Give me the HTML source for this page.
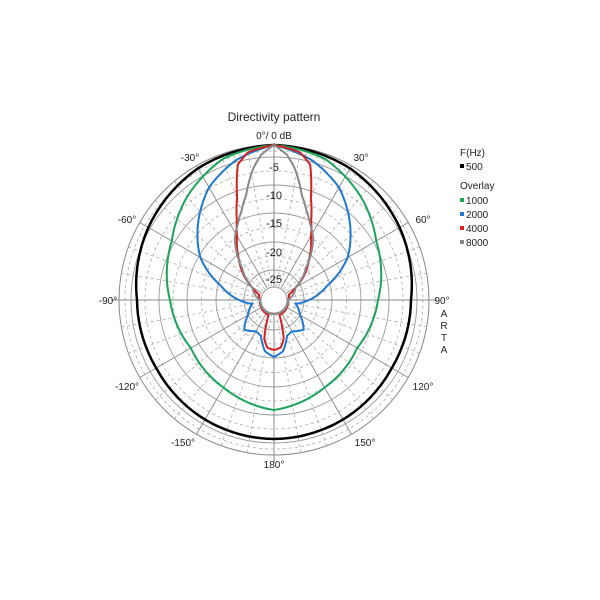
<!DOCTYPE html>
<html><head><meta charset="utf-8"><style>
body{margin:0;background:#fff;}
svg{display:block;font-family:"Liberation Sans",sans-serif;}
</style></head><body>
<svg id="s" width="600" height="600" viewBox="0 0 600 600"></svg>
<script>
const cx=274,cy=300,R=155,r0=14;
const s=document.getElementById('s');
let h='';
const rings=[143,115,87,58,30];
const dr=[149,129,101,72.5,44,22];
dr.forEach(r=>{h+=`<circle cx="${cx}" cy="${cy}" r="${r}" fill="none" stroke="#aaa" stroke-width="0.8" stroke-dasharray="3,3"/>`;});
rings.forEach(r=>{h+=`<circle cx="${cx}" cy="${cy}" r="${r}" fill="none" stroke="#999" stroke-width="0.9"/>`;});
h+=`<circle cx="${cx}" cy="${cy}" r="${R}" fill="none" stroke="#888" stroke-width="1"/>`;
function pt(a,r){const t=a*Math.PI/180;return [cx+r*Math.sin(t),cy-r*Math.cos(t)];}
for(let a=0;a<360;a+=10){const p1=pt(a,r0),p2=pt(a,R);
 const solid=a%30==0;
 h+=`<line x1="${p1[0]}" y1="${p1[1]}" x2="${p2[0]}" y2="${p2[1]}" stroke="${solid?'#888':'#aaa'}" stroke-width="${solid?0.9:0.8}" ${solid?'':'stroke-dasharray="3,3"'}/>`;}
h+=`<line x1="${cx-R-8}" y1="${cy}" x2="${cx+R+8}" y2="${cy}" stroke="#888"/>`;
h+=`<line x1="${cx}" y1="${cy-R-2}" x2="${cx}" y2="${cy+R+8}" stroke="#888"/>`;
function curve(tab,col,w){
 const pts=[];
 function r(a){for(let i=0;i<tab.length-1;i++){if(a>=tab[i][0]&&a<=tab[i+1][0]){const f=(a-tab[i][0])/(tab[i+1][0]-tab[i][0]);return tab[i][1]+f*(tab[i+1][1]-tab[i][1]);}}return tab[tab.length-1][1];}
 for(let a=-180;a<=180;a+=1){const p=pt(a,r(Math.abs(a)));pts.push(p[0].toFixed(1)+','+p[1].toFixed(1));}
 h+=`<polyline points="${pts.join(' ')}" fill="none" stroke="${col}" stroke-width="${w}"/>`;
}
curve([[0,155],[30,152],[60,145],[90,137],[120,136],[150,138],[180,139]],'#000',2.5);
curve([[0,155],[20,150],[40,135],[60,118],[90,104],[120,96],[150,101],[180,110]],'#1aa35a',2);
curve([[0,155],[15,145],[30,130],[42,112],[60,85],[75,55],[90,35],[100,22],[120,30],[135,42],[150,36],[160,38],[170,52],[180,57]],'#1f78d1',2);
curve([[0,155],[10,150],[15,140],[20,108],[25,88],[30,74],[40,55],[50,40],[60,25],[70,16],[90,14],[160,16],[166,40],[172,48],[180,50]],'#d42020',2);
curve([[0,155],[5,146],[9,133],[15,108],[20,95],[25,85],[33,72],[45,45],[60,25],[90,14],[180,14]],'#888',2);
h+=`<circle cx="${cx}" cy="${cy}" r="${r0-1}" fill="#fff" stroke="#999"/>`;
[[-5,167],[-10,195],[-15,223],[-20,252],[-25,279]].forEach(d=>{h+=`<text x="${cx}" y="${d[1]+4}" font-size="11" text-anchor="middle" fill="#222">${d[0]}</text>`;});
const T=(x,y,t,a='middle',fs=10)=>h+=`<text x="${x}" y="${y}" font-size="${fs}" text-anchor="${a}" fill="#222">${t}</text>`;
T(274,121,'Directivity pattern','middle',12);
T(274,139,'0°/ 0 dB','middle',10);
T(190,161,'-30°');T(361,161,'30°');
T(127,223,'-60°');T(423,223,'60°');
T(108,304,'-90°');T(442,304,'90°');
T(127,390,'-120°');T(423,390,'120°');
T(183,446,'-150°');T(365,446,'150°');
T(274,468,'180°');
['A','R','T','A'].forEach((c,i)=>T(444,317+i*12,c));
T(460,156,'F(Hz)','start');
T(466,170,'500','start');h+=`<rect x="460" y="164" width="4" height="4" fill="#000"/>`;
T(460,189,'Overlay','start');
[['1000','#1aa35a'],['2000','#1f78d1'],['4000','#d42020'],['8000','#888']].forEach((e,i)=>{const y=204+i*14;T(466,y,e[0],'start');h+=`<rect x="460" y="${y-6}" width="4" height="4" fill="${e[1]}"/>`;});
s.innerHTML=h;
</script>
</body></html>
